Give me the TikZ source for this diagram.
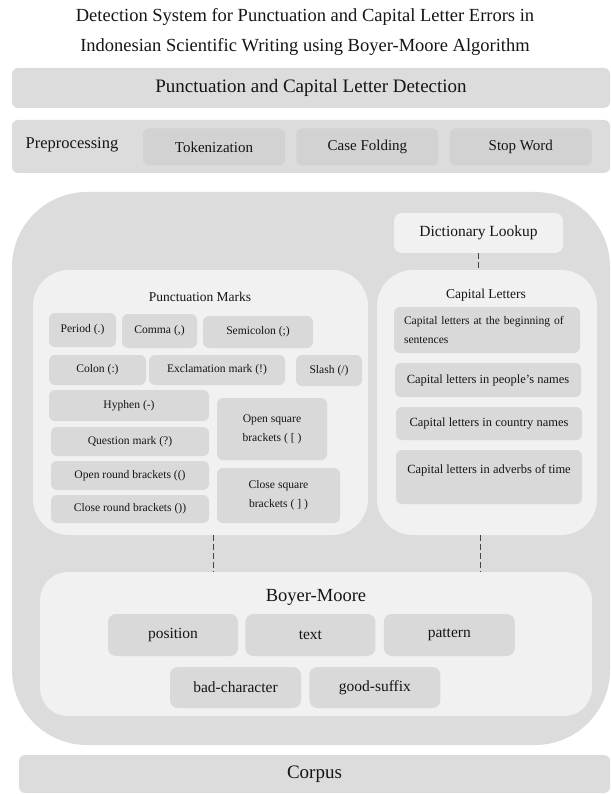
\documentclass[tikz,border=0pt]{standalone}
\usepackage{fontspec}
\setmainfont{Liberation Serif}
\usetikzlibrary{positioning}

\definecolor{bargray}{HTML}{DCDCDC}
\definecolor{boxgray}{HTML}{D2D2D2}
\definecolor{panelgray}{HTML}{F1F1F1}
\definecolor{itemgray}{HTML}{D9D9D9}
\definecolor{inkgray}{HTML}{151515}
\definecolor{dashgray}{HTML}{454545}

\begin{document}
\begin{tikzpicture}[x=1pt, y=-1pt, text=inkgray, inner sep=0pt,
    bar/.style={fill=bargray, rounded corners=6pt},
    prebox/.style={fill=boxgray, rounded corners=6pt, minimum width=142pt, minimum height=37pt, font=\fontsize{15}{15}\selectfont},
    panel/.style={fill=panelgray, rounded corners=36pt},
    item/.style={fill=itemgray, rounded corners=6pt, align=center, font=\fontsize{11.6}{19}\selectfont},
    capitem/.style={item, minimum width=186pt, font=\fontsize{12.5}{19}\selectfont},
    bmitem/.style={fill=itemgray, rounded corners=8pt, minimum width=131pt, minimum height=42pt, font=\fontsize{15.5}{15.5}\selectfont},
    link/.style={draw=dashgray, line width=0.8pt, dash pattern=on 6pt off 3pt}]
        \useasboundingbox (0,0) rectangle (610,794);

        % Title
        \node[align=center, font=\fontsize{18.5}{30}\selectfont] (title) at (305,32) {Detection System for Punctuation and Capital Letter Errors in\\Indonesian Scientific Writing using Boyer-Moore Algorithm};

        % Detection
        \node[bar, minimum width=598pt, minimum height=40pt, font=\fontsize{19}{19}\selectfont] (detect) at (311,88) {Punctuation and Capital Letter Detection};

        % Preprocessing
        \node[bar, minimum width=598pt, minimum height=53pt] (prep) at (311,146.5) {};
        \node[font=\fontsize{16.5}{16.5}\selectfont] (preplabel) at (72,145) {Preprocessing};
        \node[prebox] (token) at (214,147) {Tokenization};
        \node[prebox, right=11pt of token] (casefold) {Case Folding};
        \node[prebox, right=11pt of casefold] (stopword) {Stop Word};

        % Main area
        \node[fill=bargray, rounded corners=75pt, minimum width=598pt, minimum height=553pt] (main) at (311,468.5) {};
        \node[fill=panelgray, rounded corners=8pt, minimum width=169pt, minimum height=40pt, font=\fontsize{15.5}{15.5}\selectfont] (dict) at (478.5,233) {Dictionary Lookup};

        % Punctuation marks
        \node[panel, minimum width=335pt, minimum height=265pt] (punct) at (200.5,402.5) {};
        \node[font=\fontsize{13.5}{13.5}\selectfont] (punctlabel) at (200,297) {Punctuation Marks};
        \node[item, minimum width=67pt, minimum height=34pt] (period) at (82.5,330) {Period (.)};
        \node[item, minimum width=75pt, minimum height=34pt] (comma) at (159.5,331) {Comma (,)};
        \node[item, minimum width=110pt, minimum height=32pt] (semicolon) at (258,332) {Semicolon (;)};
        \node[item, minimum width=97pt, minimum height=30pt] (colon) at (97.5,370) {Colon (:)};
        \node[item, minimum width=136pt, minimum height=30pt] (exclam) at (217,370) {Exclamation mark (!)};
        \node[item, minimum width=66pt, minimum height=31pt] (slash) at (329,370.5) {Slash (/)};
        \node[item, minimum width=160pt, minimum height=31pt] (hyphen) at (129,405.5) {Hyphen (-)};
        \node[item, minimum width=158pt, minimum height=29pt] (question) at (130,441.5) {Question mark (?)};
        \node[item, minimum width=158pt, minimum height=29pt] (openround) at (130,475.5) {Open round brackets (()};
        \node[item, minimum width=158pt, minimum height=28pt] (closeround) at (130,509) {Close round brackets ())};
        \node[item, minimum width=110pt, minimum height=62pt] (opensquare) at (272,429) {Open square\\brackets ( [ )};
        \node[item, minimum width=123pt, minimum height=55pt] (closesquare) at (278.5,495.5) {Close square\\brackets ( ] )};

        % Capital letters
        \node[panel, minimum width=220pt, minimum height=265pt] (capital) at (487,402.5) {};
        \node[font=\fontsize{13.5}{13.5}\selectfont] (capitallabel) at (486,295) {Capital Letters};
        \node[item, align=left, text width=166pt, inner xsep=10pt, minimum height=46pt] (capbegin) at (487,330) {Capital letters at the beginning of\\sentences};
        \node[capitem, minimum height=34pt] (cappeople) at (488,380) {Capital letters in people's names};
        \node[capitem, minimum height=33pt] (capcountry) at (489,423.5) {Capital letters in country names};
        \node[capitem, minimum height=54pt, text depth=16pt] (captime) at (489,477) {Capital letters in adverbs of time};

        % Boyer-Moore
        \node[fill=panelgray, rounded corners=28pt, minimum width=552pt, minimum height=144pt] (bm) at (316,644) {};
        \node[font=\fontsize{18.5}{18.5}\selectfont] (bmlabel) at (316,597) {Boyer-Moore};
        \node[bmitem, minimum width=130pt] (position) at (173,635) {position};
        \node[bmitem, minimum width=130pt, right=7pt of position] (text) {text};
        \node[bmitem, right=8pt of text] (pattern) {pattern};
        \node[bmitem, minimum height=41pt] (badchar) at (235.5,687.5) {bad-character};
        \node[bmitem, minimum height=41pt, right=8pt of badchar] (goodsuffix) {good-suffix};

        % Corpus
        \node[bar, minimum width=591pt, minimum height=38pt, font=\fontsize{19}{19}\selectfont] (corpus) at (314.5,774) {Corpus};

        % Connections
        \draw[link] (dict.south) -- (dict.south |- capital.north);
        \draw[link] ([xshift=12.5pt]punct.south) -- ([xshift=12.5pt]punct.south |- bm.north);
        \draw[link] ([xshift=-7pt]capital.south) -- ([xshift=-7pt]capital.south |- bm.north);
    \end{tikzpicture}
\end{document}
